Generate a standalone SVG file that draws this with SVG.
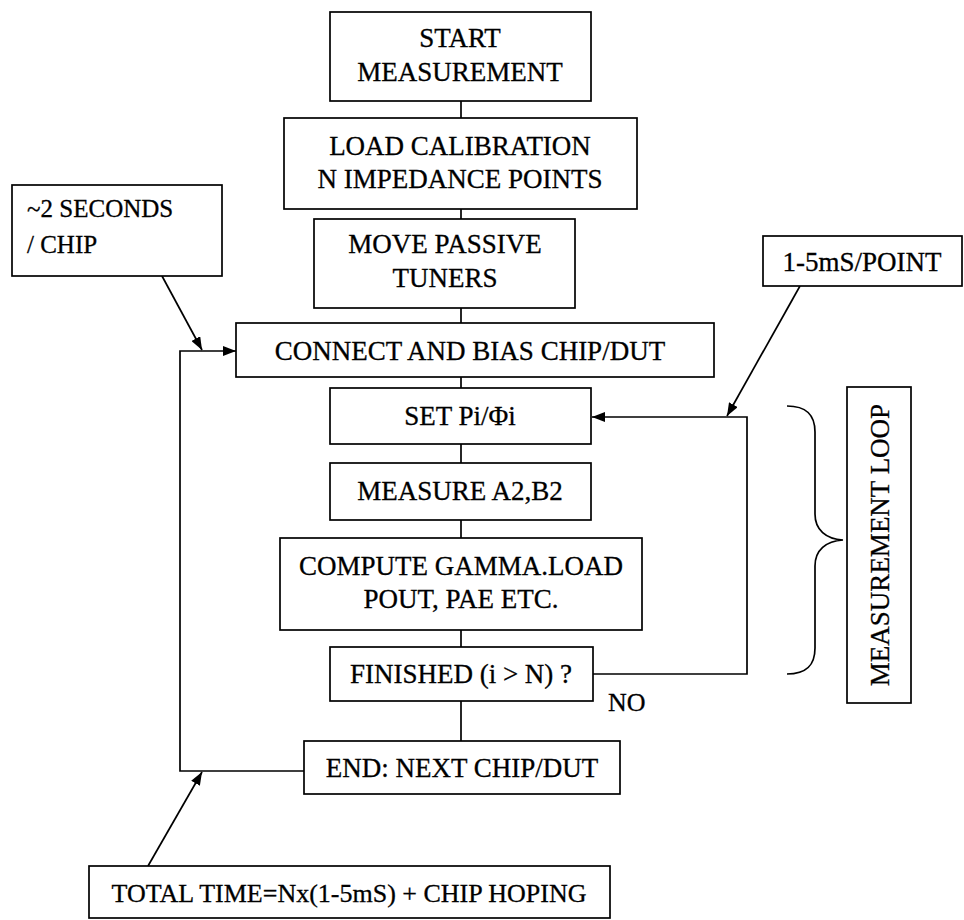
<svg xmlns="http://www.w3.org/2000/svg" width="964" height="920" viewBox="0 0 964 920">
  <style>
    .box { fill: #fff; stroke: #000; stroke-width: 1.7; }
    .t { font-family: "Liberation Serif", "Times New Roman", serif; font-size: 27px; fill: #000; stroke: #000; stroke-width: 0.3; text-anchor: middle; }
    .s { font-family: "Liberation Serif", "Times New Roman", serif; font-size: 25px; fill: #000; stroke: #000; stroke-width: 0.3; }
    .ln { fill: none; stroke: #000; stroke-width: 1.7; }
  </style>
  <defs>
    <marker id="arr" viewBox="0 0 13 10" refX="13" refY="5" markerWidth="13" markerHeight="10" markerUnits="userSpaceOnUse" orient="auto">
      <path d="M0,0 L13,5 L0,10 z" fill="#000"/>
    </marker>
  </defs>
  <rect width="964" height="920" fill="#fff"/>

  <!-- connectors -->
  <g id="connectors">
    <line class="ln" x1="461" y1="101" x2="461" y2="118"/>
    <line class="ln" x1="461" y1="209" x2="461" y2="219"/>
    <line class="ln" x1="461" y1="308" x2="461" y2="323"/>
    <line class="ln" x1="461" y1="377" x2="461" y2="388"/>
    <line class="ln" x1="461" y1="444" x2="461" y2="463"/>
    <line class="ln" x1="461" y1="520" x2="461" y2="538"/>
    <line class="ln" x1="461" y1="630" x2="461" y2="647"/>
    <line class="ln" x1="461" y1="701" x2="461" y2="741"/>
    <!-- NO branch back to SET -->
    <polyline class="ln" points="593,674 747,674 747,417 592,417" marker-end="url(#arr)"/>
    <!-- next chip loop back to CONNECT -->
    <polyline class="ln" points="304,771 180,771 180,351 236,351" marker-end="url(#arr)"/>
    <!-- annotation pointers -->
    <line class="ln" x1="162" y1="276" x2="202" y2="350" marker-end="url(#arr)"/>
    <line class="ln" x1="148" y1="866" x2="202" y2="772" marker-end="url(#arr)"/>
    <line class="ln" x1="800" y1="286" x2="727" y2="416" marker-end="url(#arr)"/>
    <!-- brace spanning the loop -->
    <path class="ln" d="M787,406 C806,406 815,414 815,432 L815,514 C815,530 826,539 843,540 C826,541 815,550 815,566 L815,648 C815,666 806,674 787,674"/>
  </g>

  <g id="start">
    <rect class="box" x="330" y="12" width="261" height="89"/>
    <text class="t" x="460" y="47">START</text>
    <text class="t" x="460" y="81">MEASUREMENT</text>
  </g>
  <g id="load-calibration">
    <rect class="box" x="284" y="118" width="353" height="91"/>
    <text class="t" x="460" y="155">LOAD CALIBRATION</text>
    <text class="t" x="460" y="188">N IMPEDANCE POINTS</text>
  </g>
  <g id="move-tuners">
    <rect class="box" x="314" y="219" width="261" height="89"/>
    <text class="t" x="445" y="253">MOVE PASSIVE</text>
    <text class="t" x="445" y="287">TUNERS</text>
  </g>
  <g id="connect-bias">
    <rect class="box" x="236" y="323" width="478" height="54"/>
    <text class="t" x="470" y="360">CONNECT AND BIAS CHIP/DUT</text>
  </g>
  <g id="set-power-phase">
    <rect class="box" x="330" y="388" width="261" height="56"/>
    <text class="t" x="460" y="425">SET Pi/Φi</text>
  </g>
  <g id="measure">
    <rect class="box" x="330" y="463" width="261" height="57"/>
    <text class="t" x="460" y="500">MEASURE A2,B2</text>
  </g>
  <g id="compute">
    <rect class="box" x="280" y="538" width="362" height="92"/>
    <text class="t" x="461" y="575">COMPUTE GAMMA.LOAD</text>
    <text class="t" x="461" y="608">POUT, PAE ETC.</text>
  </g>
  <g id="finished">
    <rect class="box" x="330" y="647" width="263" height="54"/>
    <text class="t" x="461" y="683">FINISHED (i &gt; N) ?</text>
  </g>
  <text class="s" x="608" y="711" style="font-size:26px">NO</text>
  <g id="end-next-chip">
    <rect class="box" x="304" y="741" width="316" height="53"/>
    <text class="t" x="462" y="777">END: NEXT CHIP/DUT</text>
  </g>
  <g id="total-time">
    <rect class="box" x="89" y="866" width="521" height="52"/>
    <text class="t" x="349" y="902" style="font-size:26px">TOTAL TIME=Nx(1-5mS) + CHIP HOPING</text>
  </g>
  <g id="chip-time">
    <rect class="box" x="12" y="185" width="210" height="91"/>
    <text class="s" x="27" y="217">~2 SECONDS</text>
    <text class="s" x="27" y="253">/ CHIP</text>
  </g>
  <g id="point-time">
    <rect class="box" x="763" y="236" width="199" height="50"/>
    <text class="t" x="862" y="271">1-5mS/POINT</text>
  </g>
  <g id="measurement-loop">
    <rect class="box" x="847" y="387" width="64" height="316"/>
    <text class="t" transform="translate(889,545) rotate(-90)" x="0" y="0">MEASUREMENT LOOP</text>
  </g>
</svg>
